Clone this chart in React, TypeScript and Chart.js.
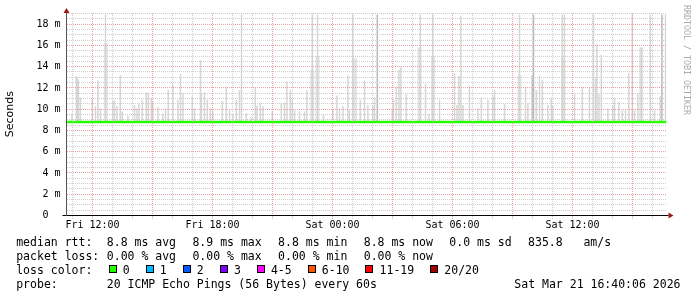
import React, { useEffect, useRef } from 'react';
import { Chart, registerables } from 'chart.js';

Chart.register(...registerables);

// ---- axis ranges (hours since Fri 00:00, seconds in ms) ----
const X_MIN = 10.7;
const X_MAX = 40.7;
const Y_MAX = 19.05;

const tickHours = [12, 18, 24, 30, 36];
const tickLabels = ['Fri 12:00', 'Fri 18:00', 'Sat 00:00', 'Sat 06:00', 'Sat 12:00'];

// ---- median rtt (ms) ----
const medianTimes = [10.7, 40.7];
const medianValues = [8.8, 8.8];
const smokeFloor = 8.8;

// ---- smoke: thin light spikes (time in hours, top in ms) ----
const spikeTimes = [
  10.97, 11.19, 11.24, 11.29, 11.39, 11.99, 12.15, 12.27, 12.40, 12.65, 13.02, 13.10, 13.22, 13.39, 13.49, 13.77,
  14.10, 14.22, 14.32, 14.49, 14.69, 14.79, 14.94, 15.02, 15.27, 15.52, 15.65, 15.79, 16.02, 16.27, 16.40, 16.52,
  16.99, 17.10, 17.40, 17.45, 17.60, 17.74, 17.89, 18.02, 18.49, 18.69, 18.85, 19.02, 19.19, 19.35, 19.45, 19.69,
  19.94, 20.14, 20.22, 20.39, 20.52, 20.99, 21.44, 21.60, 21.72, 21.89, 21.99, 22.10, 22.35, 22.60, 22.72,
  22.99, 23.25, 23.55, 24.02, 24.22, 24.35, 24.52, 24.77, 24.85, 25.02, 25.39, 25.60, 25.77, 26.02, 26.10,
  26.99, 27.05, 27.19, 27.32, 27.42, 27.69, 28.39, 28.65,
  28.82, 29.02, 29.35, 30.10, 30.22, 30.32, 30.42, 30.52, 30.85, 31.27, 31.44, 31.77, 32.02, 32.10, 32.60,
  33.35, 33.65, 33.77, 34.19, 34.35, 34.49,
  34.77, 34.94, 35.02, 35.49, 35.60, 36.10, 36.49, 36.85, 37.05, 37.15, 37.22, 37.32, 37.44, 37.77, 38.02,
  38.10, 38.32, 38.49, 38.65, 38.82, 38.99, 39.10, 39.27, 39.44, 39.89, 40.10, 40.39, 40.65,
];
const spikeTops = [
  9.6, 13.1, 13.0, 12.8, 11.1, 11.0, 10.3, 12.7, 10.1, 18.9, 10.7, 10.9, 10.3, 13.2, 9.8, 9.4,
  10.4, 10.1, 10.5, 10.9, 11.6, 11.5, 11.1, 10.7, 10.2, 9.6, 10.1, 11.8, 12.3, 10.9, 13.3, 11.5,
  11.2, 10.1, 14.6, 11.4, 11.6, 10.9, 10.1, 9.8, 10.8, 12.1, 9.9, 9.5, 10.9, 11.8, 18.9, 9.6,
  9.3, 12.0, 10.3, 10.6, 10.3, 9.8, 10.6, 10.6, 12.6, 11.8, 10.9, 9.9, 9.8, 9.8, 11.8,
  18.9, 18.9, 9.5, 9.9, 11.3, 10.0, 10.3, 13.2, 9.9, 18.9, 10.9, 12.7, 10.4, 10.3, 11.1,
  9.9, 10.9, 12.1, 13.7, 14.0, 11.4, 18.9, 12.4,
  9.6, 18.9, 10.9, 13.4, 10.4, 13.1, 18.8, 10.4, 12.2, 10.1, 11.1, 10.9, 11.2, 11.8, 10.5,
  18.9, 12.1, 10.6, 11.8, 13.2, 12.8,
  10.4, 11.1, 10.3, 18.9, 18.9, 11.4, 12.1, 12.0, 18.9, 12.9, 16.1, 11.4, 15.1, 10.1, 10.3,
  11.0, 10.7, 9.9, 9.9, 13.4, 18.9, 9.9, 11.5, 15.8, 18.9, 9.9, 11.2, 18.9,
];

// ---- smoke: wider, lighter bodies ----
const wideTimes = [12.67, 22.99, 23.25, 25.12, 28.35, 29.03, 33.35, 35.53, 39.44];
const wideTops = [16.2, 13.7, 15.0, 14.8, 15.8, 15.0, 13.2, 14.8, 15.8];

// ---- smoke: darker spikes ----
const darkTimes = [26.24, 33.99, 34.05, 40.47];
const darkTops = [18.9, 13.2, 18.9, 18.9];

// ---- legend texts ----
const rttStats = ['8.8 ms avg', '8.9 ms max', '8.8 ms min', '8.8 ms now', '0.0 ms sd', '835.8   am/s'];
const lossStats = ['0.00 % avg', '0.00 % max', '0.00 % min', '0.00 % now'];
const lossLabels = ['0', '1', '2', '3', '4-5', '6-10', '11-19', '20/20'];
const lossColors = ['#26ff00', '#00b8ff', '#0059ff', '#7e00ff', '#ff00ff', '#ff5500', '#ff0000', '#a10000'];
const probeText = '20 ICMP Echo Pings (56 Bytes) every 60s';
const dateText = 'Sat Mar 21 16:40:06 2026';

const GRID_MAJOR = '#eaa2a2';
const GRID_MINOR = '#cccccc';
const MONO = "'DejaVu Sans Mono', monospace";

const isMajorHour = (v: number) => Math.abs(v / 3 - Math.round(v / 3)) < 1e-6;
const isMajorMs = (v: number) => Math.abs(v / 2 - Math.round(v / 2)) < 1e-6;

const axisDecor = {
  id: 'axisDecor',
  afterDraw(chart: any) {
    const { ctx, chartArea: a } = chart;
    ctx.save();
    ctx.strokeStyle = '#000';
    ctx.lineWidth = 1;
    ctx.beginPath();
    ctx.moveTo(a.right, a.bottom);
    ctx.lineTo(a.right + 2, a.bottom);
    ctx.stroke();
    ctx.fillStyle = '#9b1b1b';
    ctx.beginPath();
    ctx.moveTo(a.left - 3, a.top);
    ctx.lineTo(a.left + 3, a.top);
    ctx.lineTo(a.left, a.top - 5);
    ctx.closePath();
    ctx.fill();
    ctx.beginPath();
    ctx.moveTo(a.right + 2, a.bottom - 3);
    ctx.lineTo(a.right + 2, a.bottom + 3);
    ctx.lineTo(a.right + 7, a.bottom);
    ctx.closePath();
    ctx.fill();
    ctx.restore();
  },
};

function SmokeChart() {
  const ref = useRef<HTMLCanvasElement>(null);
  useEffect(() => {
    if (!ref.current) return;
    const bar = (times: number[], tops: number[]) =>
      times.map((t, i) => ({ x: t, y: [smokeFloor, tops[i]] }));
    const chart = new Chart(ref.current, {
      type: 'bar',
      data: {
        datasets: [
          {
            type: 'line',
            label: 'median rtt',
            data: medianTimes.map((t, i) => ({ x: t, y: medianValues[i] })),
            borderColor: '#26ff00',
            borderWidth: 2.5,
            pointRadius: 0,
            fill: false,
          } as any,
          {
            label: 'dark',
            data: bar(darkTimes, darkTops) as any,
            backgroundColor: '#b8b8b8',
            barThickness: 1.5,
            inflateAmount: 0,
            grouped: false,
          },
          {
            label: 'smoke',
            data: bar(spikeTimes, spikeTops) as any,
            backgroundColor: '#d6d6d6',
            barThickness: 1.5,
            inflateAmount: 0,
            grouped: false,
          },
          {
            label: 'wide',
            data: bar(wideTimes, wideTops) as any,
            backgroundColor: '#e3e3e3',
            barThickness: 4,
            inflateAmount: 0,
            grouped: false,
          },
        ],
      },
      options: {
        responsive: false,
        animation: false,
        devicePixelRatio: 1,
        layout: { padding: { left: 0, top: 13, right: 30.5, bottom: 0 } },
        plugins: { legend: { display: false }, tooltip: { enabled: false } },
        scales: {
          x: {
            type: 'linear',
            min: X_MIN,
            max: X_MAX,
            offset: false,
            afterFit: (s: any) => { s.height = 24.5; },
            afterBuildTicks: (s: any) => {
              const t: any[] = [];
              for (let h = Math.ceil(X_MIN); h <= X_MAX; h++) t.push({ value: h });
              s.ticks = t;
            },
            ticks: {
              autoSkip: false,
              maxRotation: 0,
              minRotation: 0,
              padding: 0,
              color: '#000',
              font: { family: MONO, size: 10 },
              callback: (v: any) => {
                const i = tickHours.indexOf(Math.round(Number(v)));
                return i >= 0 ? tickLabels[i] : '';
              },
            },
            grid: {
              offset: false,
              z: 1,
              color: (c: any) => (isMajorHour(c.tick.value) ? GRID_MAJOR : GRID_MINOR),
              tickColor: (c: any) => (isMajorHour(c.tick.value) ? GRID_MAJOR : GRID_MINOR),
              tickLength: 4,
              tickBorderDash: [1, 1],
            },
            border: { color: '#000', dash: [1, 1], z: 2 },
          },
          y: {
            type: 'linear',
            min: 0,
            max: Y_MAX,
            afterFit: (s: any) => { s.width = 66.5; },
            afterBuildTicks: (s: any) => {
              const t: any[] = [];
              for (let k = 0; k * 0.5 <= Y_MAX; k++) t.push({ value: k * 0.5 });
              s.ticks = t;
            },
            title: {
              display: true,
              text: 'Seconds',
              color: '#000',
              font: { family: "'DejaVu Sans', sans-serif", size: 11 },
              padding: { top: 4, bottom: 0 },
            },
            ticks: {
              autoSkip: false,
              padding: 2,
              color: '#000',
              font: { family: MONO, size: 10 },
              callback: (v: any) => {
                const n = Number(v);
                if (!isMajorMs(n)) return '';
                return n === 0 ? '0  ' : `${n} m`;
              },
            },
            grid: {
              z: 1,
              color: (c: any) =>
                c.tick.value === 0 ? 'rgba(0,0,0,0)' : isMajorMs(c.tick.value) ? GRID_MAJOR : GRID_MINOR,
              tickColor: (c: any) => (c.tick.value === 0 ? '#000' : 'rgba(0,0,0,0)'),
              tickLength: 4,
            },
            border: { color: '#555', dash: [1, 1], z: 2 },
          },
        },
      } as any,
      plugins: [axisDecor],
    });
    return () => chart.destroy();
  }, []);
  return <canvas ref={ref} width={697} height={240} style={{ position: 'absolute', left: 0, top: 0 }} />;
}

const rowTop = (i: number) => 234.7 + i * 14;
const textStyle: React.CSSProperties = {
  position: 'absolute',
  fontFamily: MONO,
  fontSize: '11.5px',
  lineHeight: '14px',
  whiteSpace: 'pre',
  color: '#000',
};

export default function App() {
  return (
    <div style={{ position: 'absolute', left: 0, top: 0, width: 697, height: 297, background: '#fff', overflow: 'hidden' }}>
      <SmokeChart />
      <div
        style={{
          position: 'absolute',
          left: 682,
          top: 5,
          writingMode: 'vertical-rl',
          fontFamily: MONO,
          fontSize: '8.3px',
          lineHeight: '9px',
          color: '#ababab',
          whiteSpace: 'pre',
        }}
      >
        RRDTOOL / TOBI OETIKER
      </div>

      <div style={{ ...textStyle, left: 16.2, top: rowTop(0) }}>median rtt:</div>
      <div style={{ ...textStyle, left: 106.8, top: rowTop(0), display: 'flex', gap: '16.4px' }}>
        {rttStats.map((s) => (
          <span key={s}>{s}</span>
        ))}
      </div>

      <div style={{ ...textStyle, left: 16.2, top: rowTop(1) }}>packet loss:</div>
      <div style={{ ...textStyle, left: 106.8, top: rowTop(1), display: 'flex', gap: '16.4px' }}>
        {lossStats.map((s) => (
          <span key={s}>{s}</span>
        ))}
      </div>

      <div style={{ ...textStyle, left: 16.2, top: rowTop(2) }}>loss color:</div>
      <div style={{ ...textStyle, left: 108.5, top: rowTop(2), display: 'flex', alignItems: 'center' }}>
        {lossLabels.map((l, i) => (
          <span key={l} style={{ display: 'flex', alignItems: 'center', marginRight: '15.8px' }}>
            <span
              style={{
                display: 'inline-block',
                width: 8,
                height: 8,
                boxSizing: 'border-box',
                border: '1px solid #000',
                background: lossColors[i],
                marginRight: '6.3px',
                position: 'relative',
                top: '-0.5px',
              }}
            />
            <span>{l}</span>
          </span>
        ))}
      </div>

      <div style={{ ...textStyle, left: 16.2, top: rowTop(3) }}>probe:</div>
      <div style={{ ...textStyle, left: 106.8, top: rowTop(3) }}>{probeText}</div>
      <div style={{ ...textStyle, right: 16.5, top: rowTop(3) }}>{dateText}</div>
    </div>
  );
}
